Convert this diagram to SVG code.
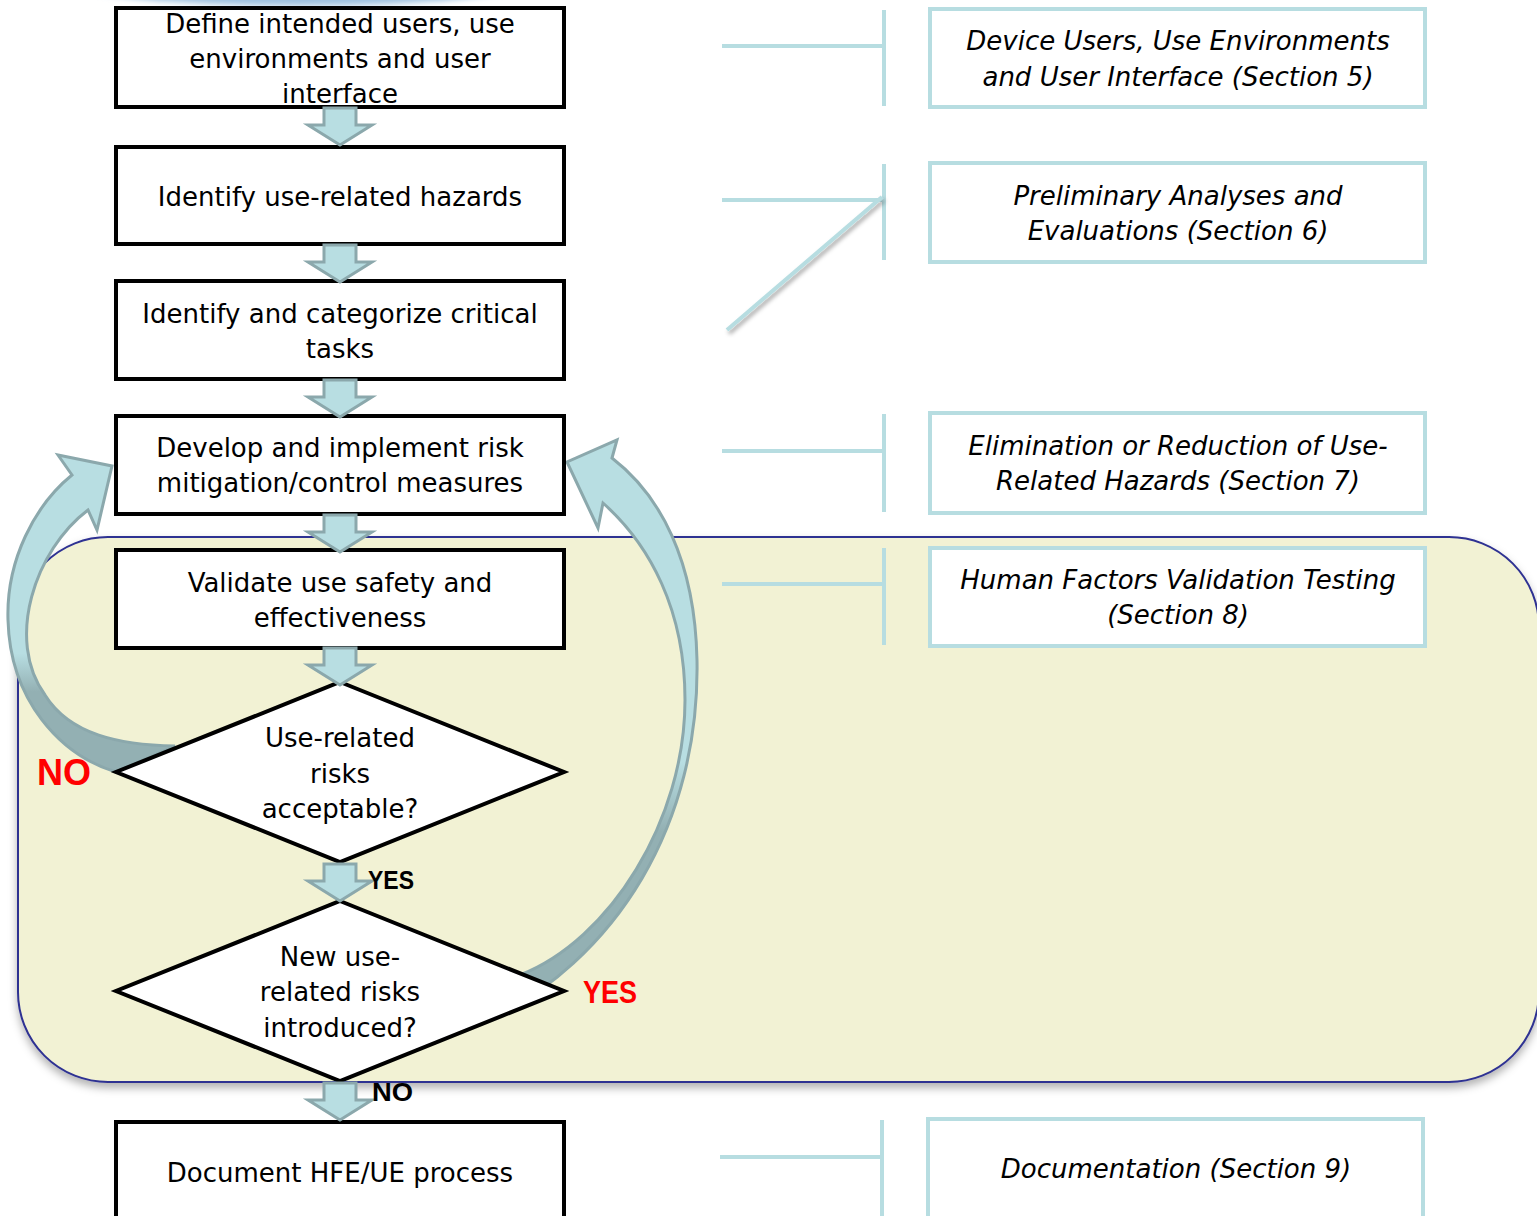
<svg xmlns="http://www.w3.org/2000/svg" width="1537" height="1216" viewBox="0 0 1537 1216">
<style>
.box{fill:#fff;stroke:#000;stroke-width:4}
.rbox{fill:#fff;stroke:#B7DDE1;stroke-width:4}
.t{font-family:"DejaVu Sans",Verdana,sans-serif;font-size:26px;fill:#000;text-anchor:middle}
.ti{font-family:"DejaVu Sans",Verdana,sans-serif;font-size:26px;font-style:italic;fill:#000;text-anchor:middle}
.lb{font-family:"Liberation Sans",Arial,sans-serif;font-weight:bold}
.con{stroke:#B7DDE1;stroke-width:4;fill:none}
.barr{fill:#B8DEE2;stroke:#8BA8AC;stroke-width:3;stroke-linejoin:miter}
.carr{stroke:#8BA8AC;stroke-width:3;stroke-linejoin:miter}
</style>
<defs>
<filter id="sh" x="-5%" y="-5%" width="110%" height="115%">
<feDropShadow dx="0" dy="5" stdDeviation="4" flood-color="#000" flood-opacity="0.3"/>
</filter>
<filter id="sh2" x="-20%" y="-20%" width="140%" height="140%">
<feDropShadow dx="2" dy="3" stdDeviation="2" flood-color="#000" flood-opacity="0.35"/>
</filter>
<filter id="blur" x="-20%" y="-100%" width="140%" height="300%">
<feGaussianBlur stdDeviation="3"/>
</filter>
<linearGradient id="gl" gradientUnits="userSpaceOnUse" x1="0" y1="455" x2="0" y2="775">
<stop offset="0" stop-color="#B8DEE2"/>
<stop offset="0.62" stop-color="#B8DEE2"/>
<stop offset="0.74" stop-color="#93B0B3"/>
<stop offset="1" stop-color="#93B0B3"/>
</linearGradient>
<linearGradient id="gr" gradientUnits="userSpaceOnUse" x1="0" y1="440" x2="0" y2="1025">
<stop offset="0" stop-color="#B8DEE2"/>
<stop offset="0.55" stop-color="#B8DEE2"/>
<stop offset="0.67" stop-color="#93B0B3"/>
<stop offset="1" stop-color="#93B0B3"/>
</linearGradient>
<path id="ba" class="barr" d="M324,0 L356,0 L356,17 L372,17 L340,37 L308,17 L324,17 Z"/>
</defs>

<ellipse cx="300" cy="-20" rx="230" ry="26" fill="#9CC0DF" filter="url(#blur)"/>

<g id="validation-region">
<rect x="18" y="537" width="1521" height="545" rx="90" ry="90" fill="#F2F2D4" stroke="#2E3192" stroke-width="2" filter="url(#sh)"/>
</g>

<g id="connectors">
<path id="loop-no" d="M72,475 L58,455 L112,466 L97,530 L88,510 C35,550 5,640 45,695 C70,735 120,745 175,746 L116,772 C60,755 10,700 8,620 C6,560 35,505 72,475 Z" fill="url(#gl)" class="carr"/>
<path id="loop-yes" d="M612,458 L617,440 L567,462 L598,528 L603,503 C650,545 685,610 685,700 C685,820 610,940 520,975 L480,1025 C620,960 700,820 697,660 C695,560 660,495 612,458 Z" fill="url(#gr)" class="carr"/>
<g class="con">
<path d="M722,46 H884 M884,10 V106"/>
<path d="M722,200 H884 M884,164 V260"/>
<path d="M722,451 H884 M884,414 V512"/>
<path d="M722,584 H884 M884,548 V645"/>
<path d="M720,1157 H882 M882,1120 V1216"/>
</g>
<line x1="727" y1="330" x2="882" y2="197" stroke="#B7DDE1" stroke-width="4" filter="url(#sh2)"/>
</g>

<g id="n1"><rect class="box" x="116" y="8" width="448" height="99"/>
<text class="t" x="340" y="33">Define intended users, use</text>
<text class="t" x="340" y="68">environments and user</text>
<text class="t" x="340" y="103">interface</text></g>
<g id="n2"><rect class="box" x="116" y="147" width="448" height="97"/>
<text class="t" x="340" y="206">Identify use-related hazards</text></g>
<g id="n3"><rect class="box" x="116" y="281" width="448" height="98"/>
<text class="t" x="340" y="323">Identify and categorize critical</text>
<text class="t" x="340" y="358">tasks</text></g>
<g id="n4"><rect class="box" x="116" y="416" width="448" height="98"/>
<text class="t" x="340" y="457">Develop and implement risk</text>
<text class="t" x="340" y="492">mitigation/control measures</text></g>
<g id="n5"><rect class="box" x="116" y="550" width="448" height="98"/>
<text class="t" x="340" y="592">Validate use safety and</text>
<text class="t" x="340" y="627">effectiveness</text></g>
<g id="d1"><polygon class="box" points="340,682 564,772 340,862 116,772"/>
<text class="t" x="340" y="747">Use-related</text>
<text class="t" x="340" y="783">risks</text>
<text class="t" x="340" y="818">acceptable?</text></g>
<g id="d2"><polygon class="box" points="340,901 564,991 340,1081 116,991"/>
<text class="t" x="340" y="966">New use-</text>
<text class="t" x="340" y="1001">related risks</text>
<text class="t" x="340" y="1037">introduced?</text></g>
<g id="n6"><rect class="box" x="116" y="1122" width="448" height="120"/>
<text class="t" x="340" y="1182">Document HFE/UE process</text></g>

<g id="flow-arrows">
<use href="#ba" transform="translate(0,108)"/>
<use href="#ba" transform="translate(0,245)"/>
<use href="#ba" transform="translate(0,380)"/>
<use href="#ba" transform="translate(0,515)"/>
<use href="#ba" transform="translate(0,648)"/>
<use href="#ba" transform="translate(0,864)"/>
<use href="#ba" transform="translate(0,1083)"/>
</g>

<g id="labels">
<text class="lb" x="37" y="785" font-size="36" fill="#FF0000">NO</text>
<text class="lb" x="583" y="1003" font-size="32" fill="#FF0000" textLength="54" lengthAdjust="spacingAndGlyphs">YES</text>
<text class="lb" x="368" y="889" font-size="25" fill="#000" textLength="46" lengthAdjust="spacingAndGlyphs">YES</text>
<text class="lb" x="372" y="1101" font-size="26" fill="#000" textLength="41" lengthAdjust="spacingAndGlyphs">NO</text>
</g>

<g id="r1"><rect class="rbox" x="930" y="9" width="495" height="98"/>
<text class="ti" x="1178" y="50">Device Users, Use Environments</text>
<text class="ti" x="1178" y="86">and User Interface (Section 5)</text></g>
<g id="r2"><rect class="rbox" x="930" y="163" width="495" height="99"/>
<text class="ti" x="1178" y="205">Preliminary Analyses and</text>
<text class="ti" x="1178" y="240">Evaluations (Section 6)</text></g>
<g id="r3"><rect class="rbox" x="930" y="413" width="495" height="100"/>
<text class="ti" x="1178" y="455">Elimination or Reduction of Use-</text>
<text class="ti" x="1178" y="490">Related Hazards (Section 7)</text></g>
<g id="r4"><rect class="rbox" x="930" y="548" width="495" height="98"/>
<text class="ti" x="1178" y="589">Human Factors Validation Testing</text>
<text class="ti" x="1178" y="624">(Section 8)</text></g>
<g id="r5"><rect class="rbox" x="928" y="1119" width="495" height="120"/>
<text class="ti" x="1176" y="1178">Documentation (Section 9)</text></g>
</svg>
